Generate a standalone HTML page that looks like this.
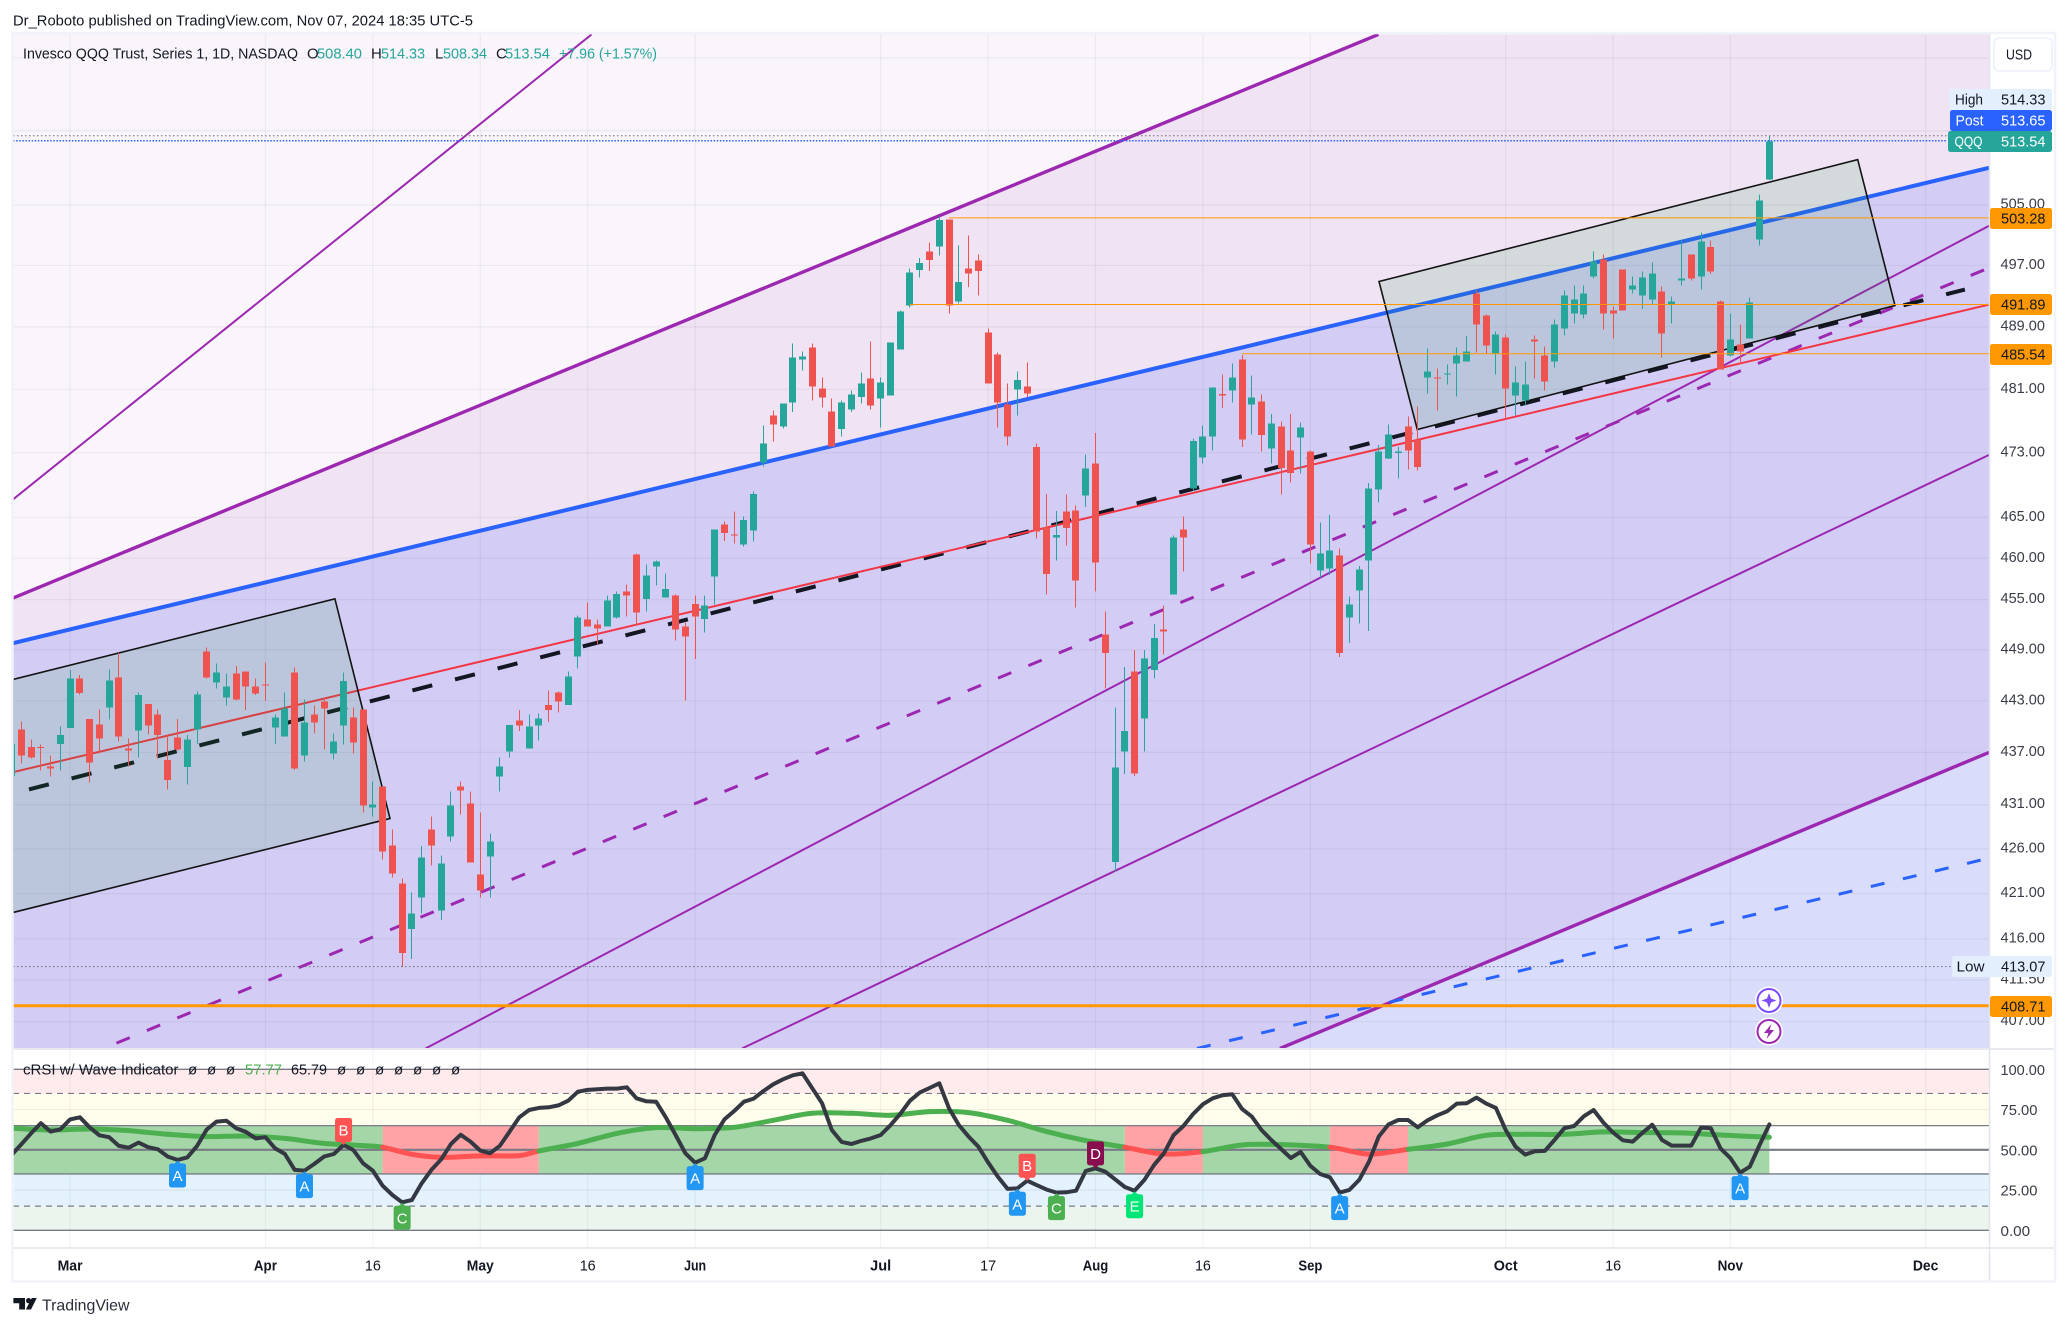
<!DOCTYPE html>
<html lang="en">
<head>
<meta charset="utf-8">
<title>QQQ daily chart</title>
<style>
html,body{margin:0;padding:0;background:#fff;width:2069px;height:1326px;overflow:hidden}
svg{display:block}
text{font-family:"Liberation Sans",sans-serif;font-size:15px;fill:#131722}
.ax{fill:#3a3d47}
.g{fill:#26a69a}
</style>
</head>
<body>
<svg id="chart" xmlns="http://www.w3.org/2000/svg" width="2069" height="1326" viewBox="0 0 2069 1326">
  <defs>
    <clipPath id="paneClip"><rect x="13" y="34" width="1976" height="1014"/></clipPath>
    <clipPath id="indClip"><rect x="13" y="1050" width="1976" height="197"/></clipPath>
  </defs>
  <rect width="2069" height="1326" fill="#ffffff"/>
  <text x="13" y="25.5" textLength="460" lengthAdjust="spacingAndGlyphs">Dr_Roboto published on TradingView.com, Nov 07, 2024 18:35 UTC-5</text>

  <g clip-path="url(#paneClip)">
    <rect x="13" y="34" width="1976" height="1014" fill="#f9f5fb"/>
    <g id="zones"></g>
    <g id="gridMain"></g>
    <g id="trendLines"></g>
    <g id="boxes"></g>
    <g id="candles"></g>
    <g id="levels"></g>
  </g>

  <g clip-path="url(#indClip)">
    <g id="indBands"></g>
    <g id="gridInd"></g>
    <g id="indSegments"></g>
    <g id="indLevels"></g>
    <g id="wave"></g>
    <g id="crsi"></g>
    <g id="signals"></g>
  </g>

  <!-- legends -->
  <g>
    <text x="23" y="58.5" textLength="275" lengthAdjust="spacingAndGlyphs">Invesco QQQ Trust, Series 1, 1D, NASDAQ</text>
    <text x="307" y="58.5">O</text>
    <text x="317" y="58.5" class="g" textLength="45" lengthAdjust="spacingAndGlyphs">508.40</text>
    <text x="371" y="58.5">H</text>
    <text x="381" y="58.5" class="g" textLength="44" lengthAdjust="spacingAndGlyphs">514.33</text>
    <text x="435" y="58.5">L</text>
    <text x="443" y="58.5" class="g" textLength="44" lengthAdjust="spacingAndGlyphs">508.34</text>
    <text x="496" y="58.5">C</text>
    <text x="505" y="58.5" class="g" textLength="45" lengthAdjust="spacingAndGlyphs">513.54</text>
    <text x="559" y="58.5" class="g" textLength="98" lengthAdjust="spacingAndGlyphs">+7.96 (+1.57%)</text>
  </g>
  <g>
    <text x="23" y="1074.5" textLength="155.5" lengthAdjust="spacingAndGlyphs">cRSI w/ Wave Indicator</text>
    <text x="188" y="1074.5">ø</text>
    <text x="207" y="1074.5">ø</text>
    <text x="226" y="1074.5">ø</text>
    <text x="245" y="1074.5" textLength="37" lengthAdjust="spacingAndGlyphs" style="fill:#4caf50">57.77</text>
    <text x="291" y="1074.5" textLength="36" lengthAdjust="spacingAndGlyphs">65.79</text>
    <text x="337" y="1074.5">ø</text>
    <text x="356" y="1074.5">ø</text>
    <text x="375" y="1074.5">ø</text>
    <text x="394" y="1074.5">ø</text>
    <text x="413" y="1074.5">ø</text>
    <text x="432" y="1074.5">ø</text>
    <text x="451" y="1074.5">ø</text>
  </g>

  <!-- axes chrome -->
  <line x1="13" y1="1049" x2="2054" y2="1049" stroke="#e0e3eb" stroke-width="1.5"/>
  <line x1="13" y1="1248" x2="2054" y2="1248" stroke="#e0e3eb" stroke-width="1.5"/>
  <line x1="1989.5" y1="34" x2="1989.5" y2="1281" stroke="#e0e3eb" stroke-width="1.5"/>
  <rect x="12.5" y="33" width="2042.5" height="1248.5" fill="none" stroke="#f0f3fa" stroke-width="2.5"/>
  <g id="priceAxis"></g>
  <g id="rsiAxis"></g>
  <g id="timeAxis"></g>

  <g>
    <rect x="1994" y="38" width="58" height="33" rx="5" fill="#fff" stroke="#f0f3fa" stroke-width="2"/>
    <text x="2006" y="59.5" textLength="26" lengthAdjust="spacingAndGlyphs">USD</text>
  </g>

  <g id="priceTags"></g>

  <!-- chart tools -->
  <g>
    <circle cx="1769" cy="1000.5" r="13" fill="#ffffff" stroke="#ffffff" stroke-width="2"/>
    <circle cx="1769" cy="1000.5" r="11.5" fill="#ffffff" stroke="#7c4dff" stroke-width="2"/>
    <polygon points="1769,993 1771,998.5 1776.5,1000.5 1771,1002.5 1769,1008 1767,1002.5 1761.5,1000.5 1767,998.5" fill="#7c4dff"/>
  </g>
  <g>
    <circle cx="1769" cy="1031.5" r="13" fill="#ffffff" stroke="#ffffff" stroke-width="2"/>
    <circle cx="1769" cy="1031.5" r="11.5" fill="#ffffff" stroke="#9c27b0" stroke-width="2"/>
    <polygon points="1771.5,1024 1764,1033 1768.5,1033 1766.5,1039 1774,1030 1769.5,1030" fill="#9c27b0"/>
  </g>

  <g>
    <polygon points="13.4,1298 25,1298 25,1309.5 19.2,1309.5 19.2,1303.2 13.4,1303.2" fill="#131722"/>
    <circle cx="28.6" cy="1300.6" r="2.6" fill="#131722"/>
    <polygon points="31.8,1298 36.8,1298 31,1309.5 25.8,1309.5" fill="#131722"/>
    <text x="42" y="1310.5" textLength="87.5" lengthAdjust="spacingAndGlyphs" style="font-size:16px;fill:#2a2e39">TradingView</text>
  </g>
</svg>

<script>
// ---------- data ----------
const opens = [
434.3,439.65,437.6,437.6,435.4,438,439.8,445.6,440.9,440.25,
442.2,445.75,437.45,439.55,442.6,441.4,436.1,438.75,435.3,439.65,
448.8,445.15,443.4,446.2,446.45,444.7,444.9,439.9,438.85,446.3,
436.65,441.4,442.9,436.9,440.1,441.05,442,430.7,433.1,426.4,
422.1,417.1,420.55,428.2,419.1,427.4,433.1,431.15,423.15,425.15,
434.25,437.1,440.7,437.45,440.1,442.5,444,442.5,448.2,452.6,
452,451.8,452.85,456,460.45,455.1,459,455.25,455.5,451.8,
454.5,452.7,457.8,464.1,462.9,461.7,463.4,471.8,477.7,476.3,
479.35,484.8,486.35,481.1,478.2,475.95,478.45,480,482.4,479.85,
480.2,486.1,491.75,496.4,498.85,499.5,503.1,492.3,496.6,497.65,
488.3,485.45,479.1,480.95,481.35,473.75,463.75,462.5,465.7,465.85,
467.7,471.65,450.85,424.55,437.1,446.45,440.95,446.6,451.4,455.6,
463.5,468.55,472.4,475.05,480.4,480.85,484.8,479.05,479.45,473.55,
476.3,473.3,474.9,473.15,458.5,458.75,460.35,452.85,456.1,459.7,
468.45,472.3,473,476.3,474.65,482.5,482.5,482.9,484.3,484.55,
493.35,490.5,485.55,487.6,480.2,479.6,487.4,485.3,484.55,488.8,
490.75,490.6,495.55,497.8,491.15,496.5,493.85,493.1,492.55,493.6,
491.9,495.05,498.45,495.55,499.4,492.3,485.3,486.7,487.5,500.45,
508.4];
const highs = [
438.5,440.6,438.5,437.9,436.65,440,446.6,446,440.9,442,
446.7,448.6,438.6,444,442.6,442,439,440.9,439,444.1,
449.3,447.4,446.2,447.1,446.45,445.6,447.5,441.4,444,446.9,
443.15,442.45,443.3,439.2,446.3,442.2,442,433.65,433.1,428.2,
422.7,421.1,426.3,429.65,425.25,432.5,433.65,432.5,430.1,427.75,
436.4,440.2,441.9,441.4,441.5,444.2,444.1,446.45,453.1,454.65,
452.6,455.5,456,456.8,460.55,459.25,459.7,458.15,455.6,452.25,
455.5,455.5,463.5,464.5,465.7,465.1,468.2,476.4,478.3,479.2,
486.85,485.8,486.85,482.5,479.85,479.6,480.85,483.15,487.1,482.5,
487,491.1,496.6,497.95,500.05,503.5,503.1,499.65,500.95,498.45,
488.8,485.7,481.75,483.25,484.4,474.15,467.9,465.8,467.8,466.45,
472.8,475.5,453.6,442.2,447,449,449,452.05,454.3,462.8,
465.1,474.8,476.4,481.25,482.9,484.3,485.4,482.75,480.35,477.85,
476.9,477.9,476.8,473.3,464.35,465.3,461.2,455.4,459.05,469.25,
474,476.55,473.75,477.55,478.8,486.2,483.65,484.15,486.35,487.8,
493.75,490.6,488.4,488,483.9,484.55,487.9,486.45,489.95,493.75,
494.4,494.4,498.85,498.45,491.65,496.5,495.55,496.2,497.4,494.25,
492.95,500.3,498.45,501.35,500.3,492.45,490.75,489.3,492.8,506.4,
514.33];
const lows = [
434.3,435.7,436.3,434.9,434.2,434.9,439.8,443.75,433.55,436.9,
440.8,438.25,435.4,436.4,439.1,436.3,432.75,437.2,433.3,438,
445.6,444.45,442.45,443.05,441.9,443.65,442.95,438,438.85,435,
435.95,439.2,437.35,436.2,437.9,436.9,430.1,429.65,424.8,422.8,
412.9,413.8,418.8,424.15,418.1,426.85,429.9,424.5,420.55,420.55,
432.5,436.4,439.5,437.45,438.4,440.5,441.65,442.5,446.8,451.8,
449.65,451.8,452.75,453,451.9,453.55,456.7,455.25,450.1,443.05,
447.9,451.05,454.4,462.1,461.8,461.45,462.05,471.3,474.4,476.05,
478.1,483.4,479.6,478.7,473.8,475.05,478.1,479.2,478.45,476.2,
480.2,486.1,491.5,495.45,496.25,498.3,490.7,492.05,494.15,493.05,
481.75,476.2,473.9,477.7,480.05,462.4,455.6,459.7,461.55,454.05,
466.3,455.95,444.45,423.45,434.5,434.3,437.1,445.6,448.45,455.6,
458.4,468.25,471.65,473.3,478.6,479.3,473.75,475.3,473.15,471.65,
467.8,469.3,470.4,459.35,457.65,458,448.15,449.8,452.15,451.25,
466.85,472.2,469.8,470.9,470.8,480.45,478.3,481.6,480.1,484.55,
485.7,485.55,482.9,477.3,477.7,478.95,482.4,480.85,483.8,487.9,
489.45,490.1,495.3,488.65,487.5,491.15,493.35,491.3,491.9,485.05,
489.45,494.4,495.05,493.85,495.85,483.5,485.2,484.25,487.5,499.65,
508.34];
const closes = [
438,436.65,436.4,437.5,435.15,439,445.6,443.9,435.85,438.6,
445.4,438.85,437.2,443.65,440.1,439,433.8,437.35,438.5,443.75,
445.75,446.3,444.7,443.15,444.7,443.85,444.8,441.05,442.1,435.15,
440.45,440.45,442.1,438.25,445.3,438.15,430.9,431,425.7,423.25,
414.45,418.8,425.05,426.4,424.35,430.9,432.65,424.5,421.35,426.85,
435.4,440.2,440.1,440,440.95,441.9,442.9,445.85,452.85,451.8,
451.55,454.9,455.7,455.5,453.45,457.9,459.6,456.3,451.45,450.6,
453,454.3,463.5,463.1,462.8,464.7,467.9,474.15,476.55,479.2,
485.05,485.2,481.35,479.95,473.8,479.35,480.35,481.75,478.95,481.85,
487,491,496.1,497.3,497.7,503,491.75,494.8,495.95,496.25,
481.75,479.35,475.05,482.2,480.45,463.25,458.1,462.85,463.7,457.3,
471.05,459.5,448.6,435.25,439.45,434.55,448,450.4,451.2,462.5,
462.5,474.45,475.05,481.25,480.2,482.5,474.65,479.95,475.2,476.7,
471.1,470.5,476.15,461.65,460.55,460.95,448.6,454.4,458.65,468.55,
473.15,475.3,473.15,473.3,471.25,483.25,482.35,483,485.3,485.8,
489.3,486.6,488,481.1,481.85,481.6,487.1,482,489.3,493.1,
492.55,493.35,497.55,490.75,490.75,491.15,494.4,495.45,495.95,488.15,
492.3,495.3,495.3,500.15,496.2,483.5,487.4,485.8,492.15,505.6,
513.54];

const crsiValues = [
46.8,53.4,60.2,66.5,61.3,62.7,68.9,70.2,64,59,
57.8,52.4,51.3,54.5,51.6,50.3,45.8,43.7,45.3,52.4,
62.7,67.5,68.1,63.4,61.1,57.1,57.8,50.9,47.4,37.5,
37.1,41.2,45.8,47.4,53,49.9,41.6,37.1,27.7,21.9,
17.4,18.8,29.2,37.5,44.1,53.6,59.4,55.1,49.5,47.8,
52.4,61.3,70.2,74.7,76,76.4,77.6,80.5,86.1,87.2,
87.6,88,88,88.8,82,80.1,79.9,70.2,59.2,47.8,
42,44.7,59.2,68.9,74.1,79.9,81.8,86.5,90.7,93.8,
96.3,97.5,88.2,78.9,62.3,54.9,53.6,55.5,57.1,59.2,
65.2,72.3,80.5,85.5,88.4,91.3,75.8,65.4,58.2,52,
42.2,33.3,25.7,26.1,30.8,28,25.3,23.4,23.6,24.6,
36.9,38.5,36.4,31.7,26.9,24.6,31.3,40.6,47.8,59.2,
64.8,72.3,78.3,82,83.9,84.5,75.4,70.6,62.3,56.1,
50.5,44.9,48.7,40,35,32.9,23.4,25.1,31.3,42.6,
58.2,65.8,68.5,68.5,64,68.3,71.4,73.9,78.7,78.9,
82.4,78.7,76,62.3,52,47,49.1,49.3,56.1,63.4,
64.8,70.8,74.7,66.9,60.7,55.9,55.1,60.5,65.6,56.1,
52.6,52.6,52.6,63.8,63.4,50.9,44.9,35.8,39.5,53,
65.8];

const waveBars = [0,4,8,12,16,20,24,28,32,36,38,41,44,48,52,54,58,62,66,70,74,78,82,86,90,94,98,102,106,110,114,118,122,126,130,135,139,143,147,151,155,159,163,167,171,175,180];
const waveValues = [63.4,62.3,62.9,61.9,59.6,58.2,58.6,57.1,54,52.6,51.6,47.2,45.3,46.2,46.4,49.3,54,60.2,63.8,63.1,64,68.3,72.7,72.7,71.4,73.7,73.1,68.3,61.3,55.7,51.6,47.4,48.9,53,53.2,51.6,47.4,50.3,53.6,59,59.6,59.6,61.1,60.7,60.5,59.2,57.8];
const bearishStarts = [38,114,135];
const bearishEnds = [54,122,143];

const signalBars = [17,30,34,40,70,103,104,107,111,115,136,177];
const signalLetters = ['A','A','B','C','A','A','B','C','D','E','A','A'];

const priceTicks = [505,497,489,481,473,465,460,455,449,443,437,431,426,421,416,411.5,407];
const hiddenGridPrices = [525,515];
const rsiTicks = [100,75,50,25,0];
const timeTickBars = [6,26,37,48,59,70,89,100,111,122,133,153,164,176,196];
const timeTickLabels = ['Mar','Apr','16','May','16','Jun','Jul','17','Aug','16','Sep','Oct','16','Nov','Dec'];

const levelPrices = [503.28,491.89,485.54,408.71];
const levelStartBars = [96,92,126,0];

const highPrice = 514.33;
const postPrice = 513.65;
const lowPrice = 413.07;

// drawn trend lines, as [bar, price] anchors
const thinUpperAnchors = [[0.15,467.2],[59.39,528.27]];
const channelTopAnchors = [[0.15,455.19],[139.97,528.27]];
const blueTrendAnchors = [[0.15,449.8],[202.49,509.99]];
const redTrendAnchors = [[0.15,434.72],[202.49,491.89]];
const blackDashAnchors = [[1.79,432.74],[200.02,493.85]];
const purpleDashAnchors = [[10.75,404.69],[202.49,496.68]];
const purpleMidAnchors = [[42.39,404.12],[202.49,502.23]];
const purpleLowAnchors = [[74.8,404.12],[202.49,472.74]];
const channelLowAnchors = [[129.89,404.12],[202.49,437]];
const blueDashAnchors = [[121.39,404.12],[201.87,424.8]];
const leftBoxAnchors = [[0.15,445.5],[33.12,455.1],[38.76,429.44],[0.15,418.9]];
const rightBoxAnchors = [[140.03,494.89],[189.04,511.1],[192.86,491.77],[143.95,475.92]];

// ---------- axis functions ----------
function xOf(bar){ return 11.5 + 9.766 * bar; }
function yOf(price){ return 205 + Math.log(505 / price) * 3785; }
function rsiY(v){ return 1230.3 - 1.61 * v; }

const SVGNS = 'http://www.w3.org/2000/svg';
function mk(tag, attrs, parent){
  const n = document.createElementNS(SVGNS, tag);
  for (const k in attrs) n.setAttribute(k, attrs[k]);
  parent.appendChild(n);
  return n;
}
function $(id){ return document.getElementById(id); }
function pts(anchors){ return anchors.map(function(a){ return xOf(a[0]).toFixed(1) + ',' + yOf(a[1]).toFixed(1); }).join(' '); }

// ---------- zones ----------
const paneLeft = 13, paneRight = 1989, paneTop = 34, paneBottom = 1048;
const pinkZone = mk('polygon', {
  points: [
    xOf(channelTopAnchors[0][0]) + ',' + yOf(channelTopAnchors[0][1]),
    xOf(channelTopAnchors[1][0]) + ',' + yOf(channelTopAnchors[1][1]),
    paneRight + ',' + paneTop,
    xOf(blueTrendAnchors[1][0]) + ',' + yOf(blueTrendAnchors[1][1]),
    xOf(blueTrendAnchors[0][0]) + ',' + yOf(blueTrendAnchors[0][1])
  ].join(' '),
  fill: '#f0e3f3'
}, $('zones'));



const lowerBase = mk('polygon', {
  points: [
    xOf(channelLowAnchors[0][0]) + ',' + yOf(channelLowAnchors[0][1]),
    xOf(channelLowAnchors[1][0]) + ',' + yOf(channelLowAnchors[1][1]),
    paneRight + ',' + paneBottom
  ].join(' '),
  fill: '#d9dcfa'
}, $('zones'));



const midZone = mk('polygon', {
  points: [
    xOf(blueTrendAnchors[0][0]) + ',' + yOf(blueTrendAnchors[0][1]),
    xOf(blueTrendAnchors[1][0]) + ',' + yOf(blueTrendAnchors[1][1]),
    xOf(channelLowAnchors[1][0]) + ',' + yOf(channelLowAnchors[1][1]),
    xOf(channelLowAnchors[0][0]) + ',' + yOf(channelLowAnchors[0][1]),
    paneLeft + ',' + paneBottom
  ].join(' '),
  fill: '#d3cdf5'
}, $('zones'));



// ---------- grid ----------
priceTicks.concat(hiddenGridPrices).forEach(function(p){
  const gl = mk('line', {x1: paneLeft, x2: paneRight, y1: yOf(p), y2: yOf(p), stroke: 'rgba(42,46,57,0.06)', 'stroke-width': 1.2}, $('gridMain'));
  
  
});
timeTickBars.forEach(function(b){
  const gv = mk('line', {x1: xOf(b), x2: xOf(b), y1: paneTop, y2: paneBottom, stroke: 'rgba(42,46,57,0.06)', 'stroke-width': 1.2}, $('gridMain'));
  
  
  const gi = mk('line', {x1: xOf(b), x2: xOf(b), y1: 1050, y2: 1247, stroke: 'rgba(42,46,57,0.06)', 'stroke-width': 1.2}, $('gridInd'));
  
  
});

// ---------- trend lines ----------
function trend(anchors, color, width, dash, name){
  const ln = mk('line', {
    x1: xOf(anchors[0][0]), y1: yOf(anchors[0][1]),
    x2: xOf(anchors[1][0]), y2: yOf(anchors[1][1]),
    stroke: color, 'stroke-width': width
  }, $('trendLines'));
  if (dash) ln.setAttribute('stroke-dasharray', dash);
  
  
}
trend(thinUpperAnchors, '#9c27b0', 2, '', 'upper-thin-purple-line');
trend(channelTopAnchors, '#9c27b0', 3.4, '', 'channel-top-line');
trend(purpleMidAnchors, '#9c27b0', 2, '', 'purple-mid-line');
trend(purpleLowAnchors, '#9c27b0', 2, '', 'purple-low-line');
trend(channelLowAnchors, '#9c27b0', 3.4, '', 'channel-bottom-line');
trend(purpleDashAnchors, '#9c27b0', 3, '14.4 18.5', 'purple-dashed-line');
trend(blueDashAnchors, '#2962ff', 3, '14 19', 'blue-dashed-line');
trend(blackDashAnchors, '#131722', 4, '20.5 23.5', 'black-dashed-trend');
trend(blueTrendAnchors, '#2962ff', 4, '', 'blue-trend-line');
trend(redTrendAnchors, '#f23645', 2, '', 'red-trend-line');

// ---------- parallelogram boxes ----------
const leftBox = mk('polygon', {points: pts(leftBoxAnchors), fill: 'rgba(20,150,50,0.12)', stroke: '#131313', 'stroke-width': 1.6}, $('boxes'));


const rightBox = mk('polygon', {points: pts(rightBoxAnchors), fill: 'rgba(20,150,50,0.12)', stroke: '#131313', 'stroke-width': 1.6}, $('boxes'));



// ---------- candles ----------
closes.forEach(function(c, i){
  const up = c >= opens[i];
  const color = up ? '#26a69a' : '#ef5350';
  const left = Math.round(xOf(i) - 3.5);
  const top = yOf(Math.max(opens[i], c));
  const bot = yOf(Math.min(opens[i], c));
  const wick = mk('rect', {x: left + 3, y: yOf(highs[i]), width: 1, height: Math.max(1, yOf(lows[i]) - yOf(highs[i])), fill: color, 'shape-rendering': 'crispEdges'}, $('candles'));
  
  
  const body = mk('rect', {x: left, y: top, width: 7, height: Math.max(1, bot - top), fill: color, 'shape-rendering': 'crispEdges'}, $('candles'));
  
  
});

// ---------- horizontal levels ----------
levelPrices.forEach(function(p, i){
  const heavy = i === 3;
  const lvl = mk('line', {x1: heavy ? paneLeft : xOf(levelStartBars[i]), x2: paneRight, y1: yOf(p), y2: yOf(p), stroke: '#ff9800', 'stroke-width': heavy ? 3 : 1}, $('levels'));
  
  
});
const highDots = mk('line', {x1: paneLeft, x2: 1947, y1: yOf(highPrice), y2: yOf(highPrice), stroke: '#6a6d78', 'stroke-width': 1, 'stroke-dasharray': '1.5 2.5'}, $('levels'));


const postDots = mk('line', {x1: paneLeft, x2: 1947, y1: yOf(postPrice), y2: yOf(postPrice), stroke: '#2962ff', 'stroke-width': 1.5, 'stroke-dasharray': '1.5 1.6'}, $('levels'));


const lowDots = mk('line', {x1: paneLeft, x2: 1952, y1: yOf(lowPrice) + 1, y2: yOf(lowPrice) + 1, stroke: '#6a6d78', 'stroke-width': 1, 'stroke-dasharray': '1.5 2.5'}, $('levels'));



// ---------- indicator bands ----------
const bandTops = [100,85,65,35,15];
const bandBottoms = [85,65,50,15,0];
const bandColors = ['#ffebec','#fffdeb','#ffffff','#e3f2fd','#ecf5ed'];
const bandNames = ['overbought-band','upper-band','neutral-band','lower-band','oversold-band'];
bandTops.forEach(function(t, i){
  const b = mk('rect', {x: paneLeft, y: rsiY(t), width: paneRight - paneLeft, height: rsiY(bandBottoms[i]) - rsiY(t), fill: bandColors[i]}, $('indBands'));
  
  
});

function isBearish(bar){
  for (let k = 0; k < bearishStarts.length; k++) if (bar >= bearishStarts[k] && bar < bearishEnds[k]) return true;
  return false;
}
const lastBar = closes.length - 1;
let segStart = 0;
[].concat(bearishStarts, bearishEnds).sort(function(a, b){ return a - b; }).concat([lastBar]).forEach(function(edge){
  const seg = mk('rect', {x: xOf(segStart), y: rsiY(65), width: xOf(edge) - xOf(segStart), height: rsiY(35) - rsiY(65), fill: isBearish(segStart) ? '#ffa3a6' : '#a5d6a7'}, $('indSegments'));
  
  
  segStart = edge;
});

// ---------- indicator levels ----------
const levelValues = [100,85,65,50,35,15,0];
const levelDashes = ['','6 5','','','','6 5',''];
const levelWidths = [1.3,1.2,1.3,2.2,1.3,1.2,1.3];
levelValues.forEach(function(v, i){
  const l = mk('line', {x1: paneLeft, x2: paneRight, y1: rsiY(v), y2: rsiY(v), stroke: '#787b86', 'stroke-width': levelWidths[i]}, $('indLevels'));
  if (levelDashes[i]) l.setAttribute('stroke-dasharray', levelDashes[i]);
  
  
});
[75,25].forEach(function(v){
  const l = mk('line', {x1: paneLeft, x2: paneRight, y1: rsiY(v), y2: rsiY(v), stroke: 'rgba(42,46,57,0.07)', 'stroke-width': 1.2}, $('gridInd'));
  
  
});

// ---------- wave (smoothed between read samples) ----------
function waveX(k){ return xOf(waveBars[Math.max(0, Math.min(waveBars.length - 1, k))]); }
function waveY(k){ return rsiY(waveValues[Math.max(0, Math.min(waveValues.length - 1, k))]); }
waveBars.forEach(function(b, i){
  if (i === 0) return;
  const prev = waveBars[i - 1];
  const d = 'M' + waveX(i - 1).toFixed(1) + ' ' + waveY(i - 1).toFixed(1) +
    ' C' + (waveX(i - 1) + (waveX(i) - waveX(i - 2)) / 6).toFixed(1) + ' ' + (waveY(i - 1) + (waveY(i) - waveY(i - 2)) / 6).toFixed(1) +
    ' ' + (waveX(i) - (waveX(i + 1) - waveX(i - 1)) / 6).toFixed(1) + ' ' + (waveY(i) - (waveY(i + 1) - waveY(i - 1)) / 6).toFixed(1) +
    ' ' + waveX(i).toFixed(1) + ' ' + waveY(i).toFixed(1);
  const seg = mk('path', {d: d, fill: 'none', stroke: isBearish(prev) ? '#ff5252' : '#4caf50', 'stroke-width': 5, 'stroke-linecap': 'round'}, $('wave'));
  
  
});

// ---------- cRSI ----------
const crsiLine = mk('polyline', {
  points: crsiValues.map(function(v, i){ return xOf(i).toFixed(1) + ',' + rsiY(v).toFixed(1); }).join(' '),
  fill: 'none', stroke: '#343842', 'stroke-width': 4, 'stroke-linejoin': 'round', 'stroke-linecap': 'round'
}, $('crsi'));



// ---------- signals ----------
const signalColors = {A:'#2196f3', B:'#ff5252', C:'#4caf50', D:'#880e4f', E:'#00e676'};
signalLetters.forEach(function(letter, i){
  const bar = signalBars[i];
  const cx = xOf(bar);
  const cy = rsiY(crsiValues[bar]);
  const above = letter === 'B' || letter === 'D';
  const boxTop = above ? cy - 27 : cy + 3.5;
  const color = signalColors[letter];
  const tip = mk('polygon', {
    points: above
      ? (cx - 4) + ',' + (boxTop + 23) + ' ' + (cx + 4) + ',' + (boxTop + 23) + ' ' + cx + ',' + (boxTop + 27)
      : (cx - 4) + ',' + (boxTop + 1) + ' ' + (cx + 4) + ',' + (boxTop + 1) + ' ' + cx + ',' + (boxTop - 3),
    fill: color
  }, $('signals'));
  
  
  const box = mk('rect', {x: cx - 8.5, y: boxTop, width: 17, height: 24, rx: 2.5, fill: color}, $('signals'));
  
  
  const tx = mk('text', {x: cx, y: boxTop + 17.5, 'text-anchor': 'middle', style: 'fill:#ffffff;font-size:15px'}, $('signals'));
  tx.textContent = letter;
  
  
});

// ---------- axis labels ----------
function priceLabel(parent, x, y, str, perChar){
  const t = mk('text', {x: x, y: y, class: 'ax', textLength: (str.length * perChar).toFixed(1), lengthAdjust: 'spacingAndGlyphs'}, parent);
  t.textContent = str;
  return t;
}
priceTicks.forEach(function(p){
  const t = priceLabel($('priceAxis'), 2000.5, yOf(p) + 3.5, p.toFixed(2), 7.4);
  
  
});
rsiTicks.forEach(function(v){
  const t = priceLabel($('rsiAxis'), 2000.5, rsiY(v) + 5.5, v.toFixed(2), 7.4);
  
  
});
const monthWidths = {Mar:25, Apr:23, May:27, Jun:22, Jul:21, Aug:25.5, Sep:24, Oct:24, Nov:25.5, Dec:25.5};
timeTickLabels.forEach(function(s, i){
  const bold = isNaN(parseInt(s, 10));
  const t = mk('text', {
    x: xOf(timeTickBars[i]), y: 1270.5, 'text-anchor': 'middle',
    textLength: bold ? monthWidths[s] : 16, lengthAdjust: 'spacingAndGlyphs',
    style: 'fill:#131722;font-weight:' + (bold ? '700' : '400')
  }, $('timeAxis'));
  t.textContent = s;
  
  
});

// ---------- price tags ----------
const tagPrices = [514.33,513.65,513.54,503.28,491.89,485.54,413.07,408.71];
const tagTitles = ['High','Post','QQQ','','','','Low',''];
const tagTops = [89,110,131,208,294,344,956,996];
const tagLefts = [1949,1950,1948,0,0,0,1952,0];
const tagFills = ['#e3effd','#2962ff','#26a69a','#ff9800','#ff9800','#ff9800','#e3effd','#ff9800'];
const tagInks = ['#131722','#ffffff','#ffffff','#131722','#131722','#131722','#131722','#131722'];
tagPrices.forEach(function(p, i){
  const top = tagTops[i];
  const fill = tagFills[i];
  const ink = tagInks[i];
  if (tagTitles[i]) {
    const lb = mk('rect', {x: tagLefts[i], y: top, width: 1990 - tagLefts[i] + 4, height: 21, rx: 2.5, fill: fill}, $('priceTags'));
    
    
    const lt = mk('text', {x: (tagLefts[i] + 1989) / 2, y: top + 15.5, 'text-anchor': 'middle', textLength: 28, lengthAdjust: 'spacingAndGlyphs', style: 'fill:' + ink}, $('priceTags'));
    lt.textContent = tagTitles[i];
    
    
  }
  const vb = mk('rect', {x: 1990, y: top, width: 62, height: 21, rx: 2.5, fill: fill}, $('priceTags'));
  
  
  const vt = mk('text', {x: 2001, y: top + 15.5, textLength: 44.5, lengthAdjust: 'spacingAndGlyphs', style: 'fill:' + ink}, $('priceTags'));
  vt.textContent = p.toFixed(2);
  
  
});
</script>
</body>
</html>
